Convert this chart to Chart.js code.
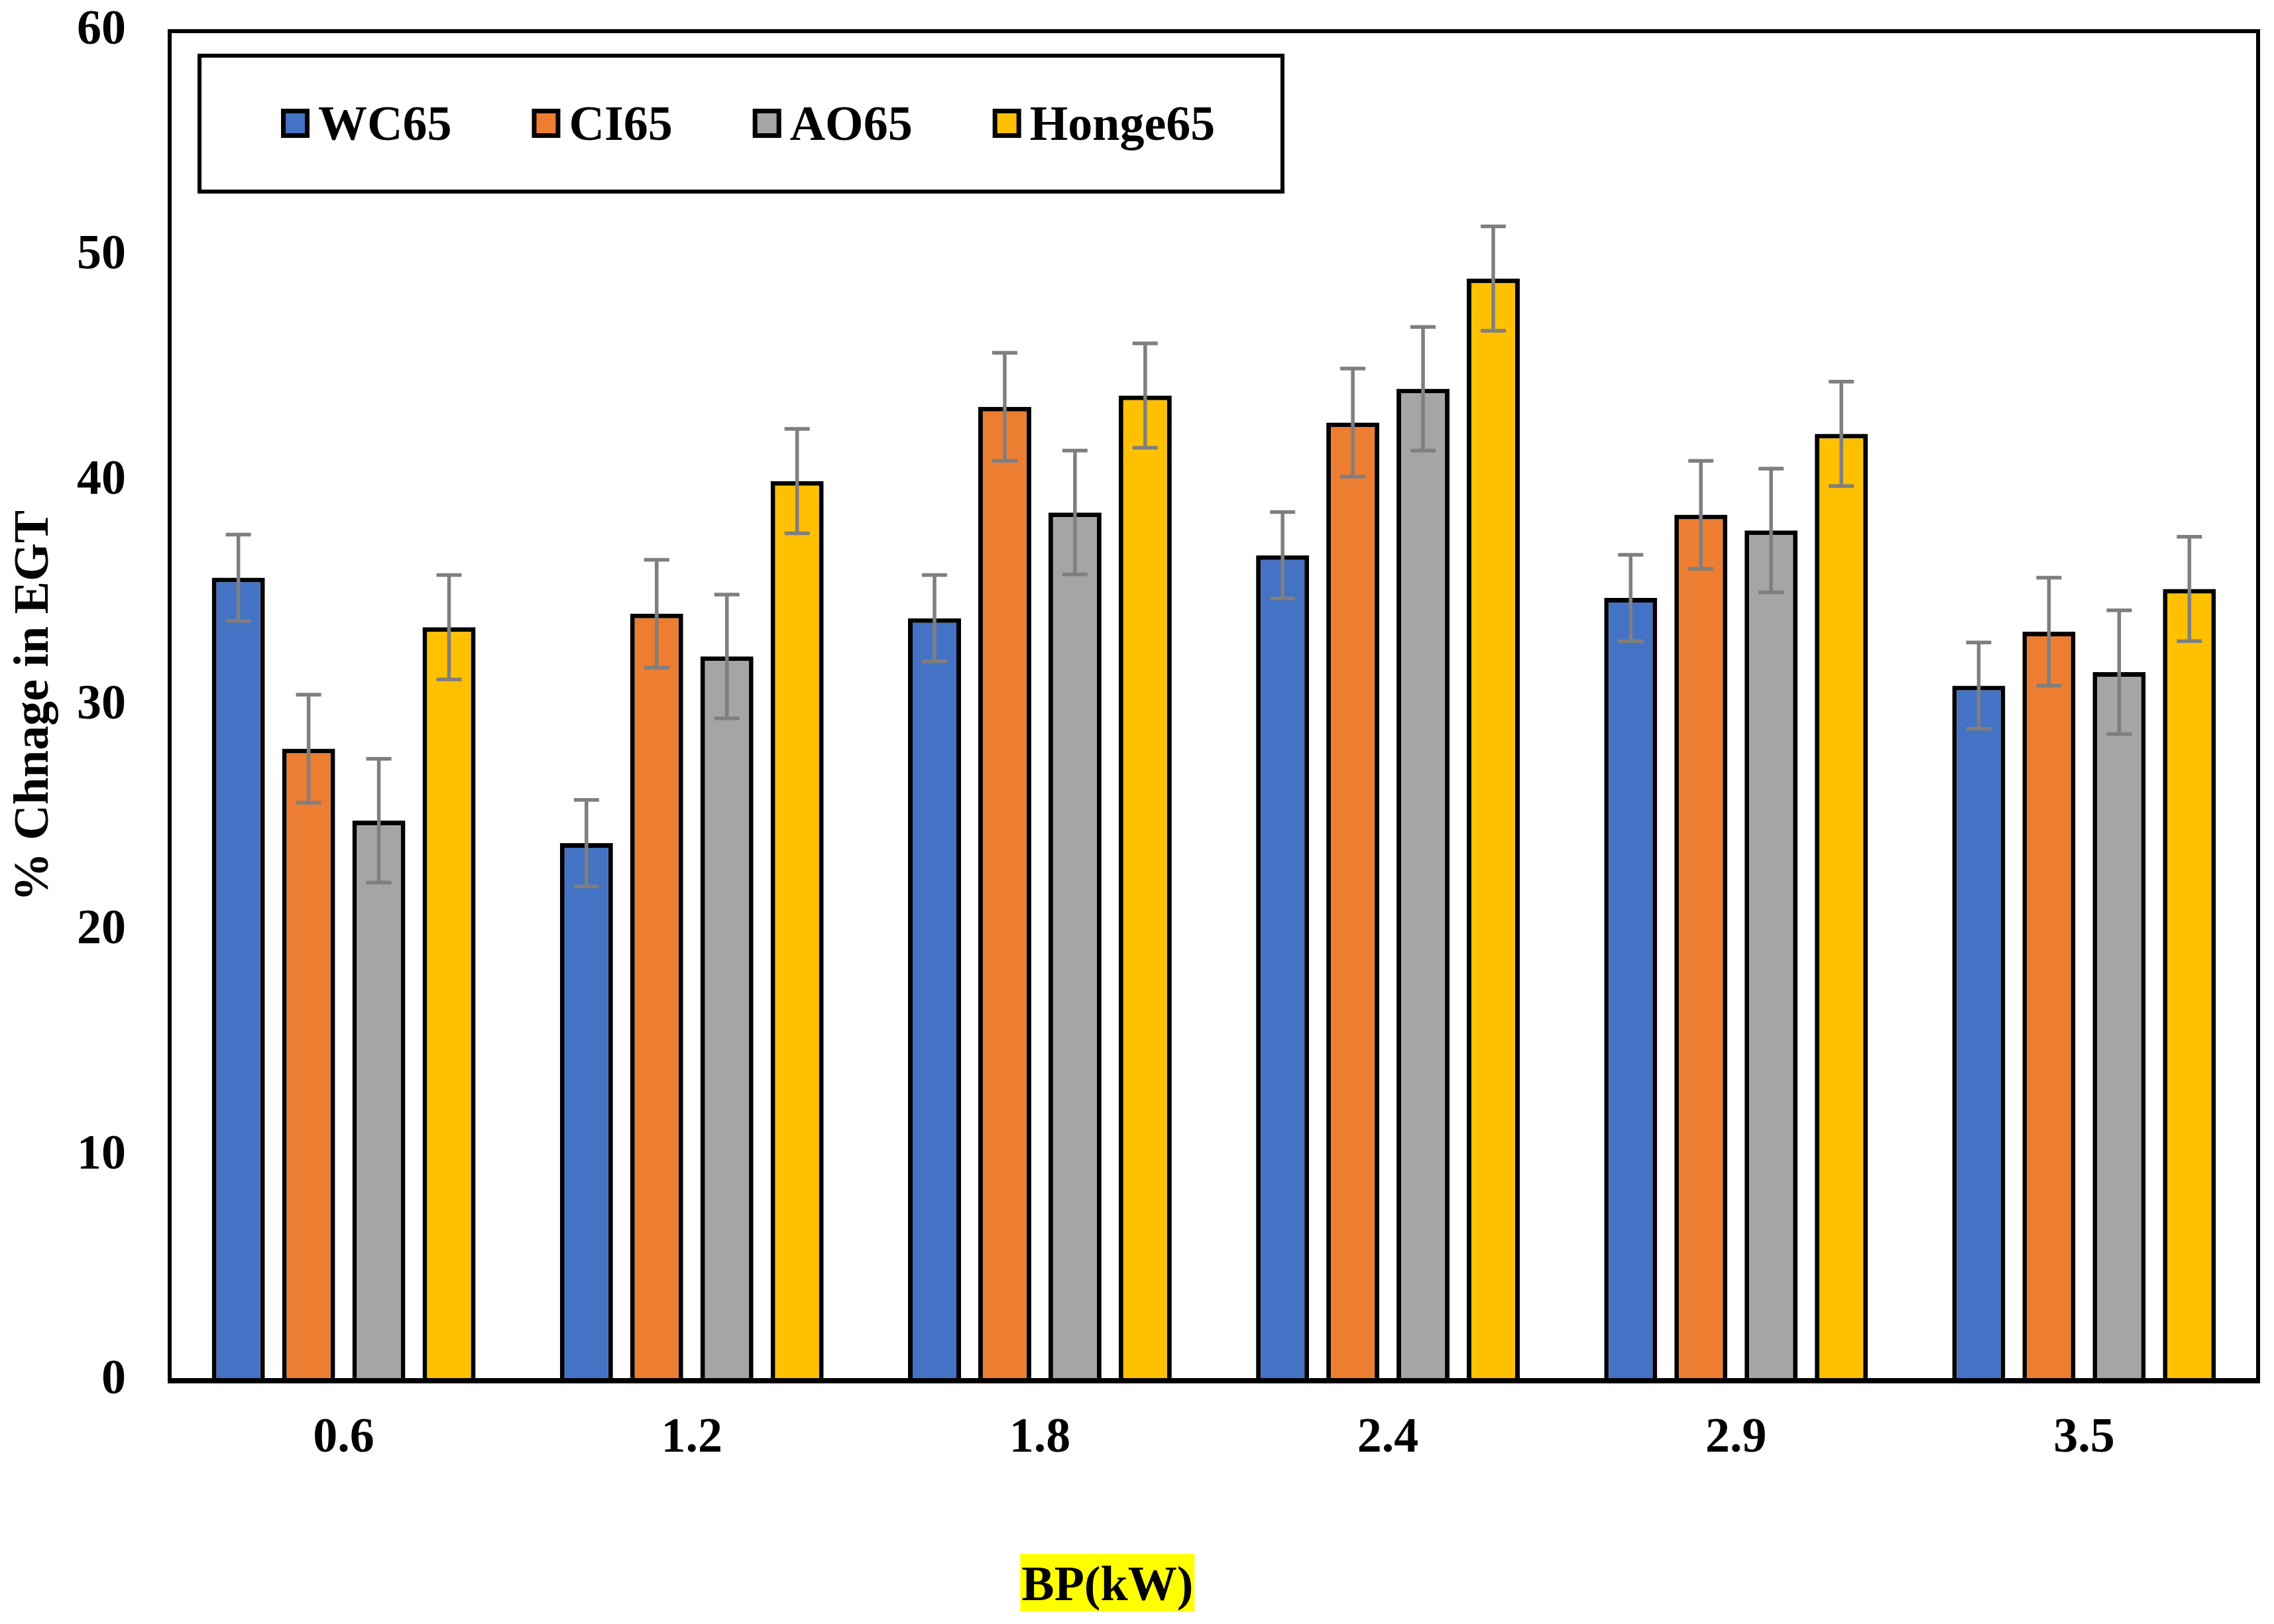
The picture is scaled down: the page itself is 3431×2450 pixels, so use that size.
<!DOCTYPE html>
<html>
<head>
<meta charset="utf-8">
<script src="https://cdn.jsdelivr.net/npm/chart.js@4.4.1/dist/chart.umd.min.js"></script>
<style>
  html, body { margin: 0; padding: 0; background: #fff; }
  #wrap { width: 3431px; height: 2450px; }
</style>
</head>
<body>
<div id="wrap"><canvas id="egtChart" width="3431" height="2450"></canvas></div>
<script>
// values
const categories = ['0.6', '1.2', '1.8', '2.4', '2.9', '3.5'];
const seriesNames = ['WC65', 'CI65', 'AO65', 'Honge65'];
const wc65 = [35.7, 23.9, 33.9, 36.7, 34.8, 30.9];
const ci65 = [28.1, 34.1, 43.3, 42.6, 38.5, 33.3];
const ao65 = [24.9, 32.2, 38.6, 44.1, 37.8, 31.5];
const honge65 = [33.5, 40.0, 43.8, 49.0, 42.1, 35.2];
const errorSizes = [1.92, 2.4, 2.75, 2.32]; // one +/- value per series
const yTicks = [0, 10, 20, 30, 40, 50, 60];
const yTitle = '% Chnage in EGT';
const xTitle = 'BP(kW)';

const colors = ['#4472C4', '#ED7D31', '#A5A5A5', '#FFC000'];
const FONT = '"Liberation Serif", "Times New Roman", serif';
const FONT_SIZE = 74;

const seriesValues = [wc65, ci65, ao65, honge65];

// grey error bars, drawn from the y scale
const errorBars = {
  id: 'errorBars',
  afterDatasetsDraw(chart) {
    const ctx = chart.ctx;
    const y = chart.scales.y;
    ctx.save();
    ctx.strokeStyle = '#7F7F7F';
    ctx.lineWidth = 5.5;
    ctx.lineCap = 'butt';
    chart.data.datasets.forEach((ds, i) => {
      const meta = chart.getDatasetMeta(i);
      meta.data.forEach((bar, j) => {
        const v = ds.data[j];
        const e = ds.errorBar;
        const top = y.getPixelForValue(v + e);
        const bot = y.getPixelForValue(v - e);
        ctx.beginPath();
        ctx.moveTo(bar.x, top);
        ctx.lineTo(bar.x, bot);
        ctx.moveTo(bar.x - 19, top);
        ctx.lineTo(bar.x + 19, top);
        ctx.moveTo(bar.x - 19, bot);
        ctx.lineTo(bar.x + 19, bot);
        ctx.stroke();
      });
    });
    ctx.restore();
  }
};

// legend inside the plot, in a black box
const boxLegend = {
  id: 'boxLegend',
  afterDraw(chart) {
    const { ctx, chartArea } = chart;
    const left = chartArea.left + 45;
    const top = chartArea.top + 37;
    const w = 1634, h = 205;
    ctx.save();
    ctx.fillStyle = '#fff';
    ctx.fillRect(left, top, w, h);
    ctx.lineWidth = 6;
    ctx.strokeStyle = '#000';
    ctx.strokeRect(left, top, w, h);
    ctx.font = 'bold ' + FONT_SIZE + 'px ' + FONT;
    ctx.textBaseline = 'alphabetic';
    let x = left + 123;
    const cy = top + 102;
    chart.data.datasets.forEach(ds => {
      ctx.fillStyle = '#000';
      ctx.fillRect(x, cy - 22, 43, 44);
      ctx.fillStyle = ds.backgroundColor;
      ctx.fillRect(x + 7, cy - 15, 29, 30);
      ctx.fillStyle = '#000';
      ctx.fillText(ds.label, x + 56, cy + 25);
      x += 56 + ctx.measureText(ds.label).width + 121;
    });
    ctx.restore();
  }
};

// plot frame and the highlighted x title
const frameAndTitle = {
  id: 'frameAndTitle',
  afterDraw(chart) {
    const { ctx, chartArea: a } = chart;
    ctx.save();
    ctx.strokeStyle = '#000';
    ctx.lineWidth = 6;
    ctx.beginPath();
    ctx.moveTo(a.left, a.bottom);
    ctx.lineTo(a.left, a.top);
    ctx.lineTo(a.right, a.top);
    ctx.lineTo(a.right, a.bottom);
    ctx.stroke();
    ctx.lineWidth = 8;
    ctx.beginPath();
    ctx.moveTo(a.left - 3, a.bottom);
    ctx.lineTo(a.right + 3, a.bottom);
    ctx.stroke();

    ctx.font = 'bold ' + FONT_SIZE + 'px ' + FONT;
    const tw = ctx.measureText(xTitle).width;
    const cx = a.left + 0.449 * (a.right - a.left);
    const base = a.bottom + 331;
    ctx.fillStyle = '#FFFF00';
    ctx.fillRect(cx - tw / 2 - 2, a.bottom + 261, tw + 4, 87);
    ctx.fillStyle = '#000';
    ctx.textAlign = 'center';
    ctx.textBaseline = 'alphabetic';
    ctx.fillText(xTitle, cx, base);
    ctx.restore();
  }
};

const ctx = document.getElementById('egtChart').getContext('2d');
new Chart(ctx, {
  type: 'bar',
  data: {
    labels: categories,
    datasets: seriesNames.map((name, i) => ({
      label: name,
      data: seriesValues[i],
      errorBar: errorSizes[i],
      backgroundColor: colors[i],
      borderColor: '#000',
      borderWidth: 7,
      categoryPercentage: 0.807,
      barPercentage: 0.755
    }))
  },
  options: {
    responsive: false,
    devicePixelRatio: 1,
    animation: false,
    layout: { padding: { top: 47, right: 24, left: 0, bottom: 0 } },
    plugins: {
      legend: { display: false },
      tooltip: { enabled: false }
    },
    scales: {
      x: {
        // tick marks are hidden; their length only spaces the labels
        grid: { display: false, drawTicks: true, tickLength: 43 },
        border: { display: false },
        ticks: {
          color: '#000',
          padding: 0,
          font: { family: FONT, size: FONT_SIZE, weight: 'bold' }
        },
        afterFit(scale) { scale.height = 367; }
      },
      y: {
        min: 0,
        max: 60,
        grid: { display: false, drawTicks: true, tickLength: 66 },
        border: { display: false },
        afterBuildTicks(scale) { scale.ticks = yTicks.map(v => ({ value: v })); },
        ticks: {
          color: '#000',
          padding: 0,
          font: { family: FONT, size: FONT_SIZE, weight: 'bold' }
        },
        title: {
          display: true,
          text: yTitle,
          color: '#000',
          padding: { top: 8, bottom: 0 },
          font: { family: FONT, size: FONT_SIZE, weight: 'bold' }
        },
        afterFit(scale) { scale.width = 256; }
      }
    }
  },
  plugins: [errorBars, boxLegend, frameAndTitle]
});
</script>
</body>
</html>
